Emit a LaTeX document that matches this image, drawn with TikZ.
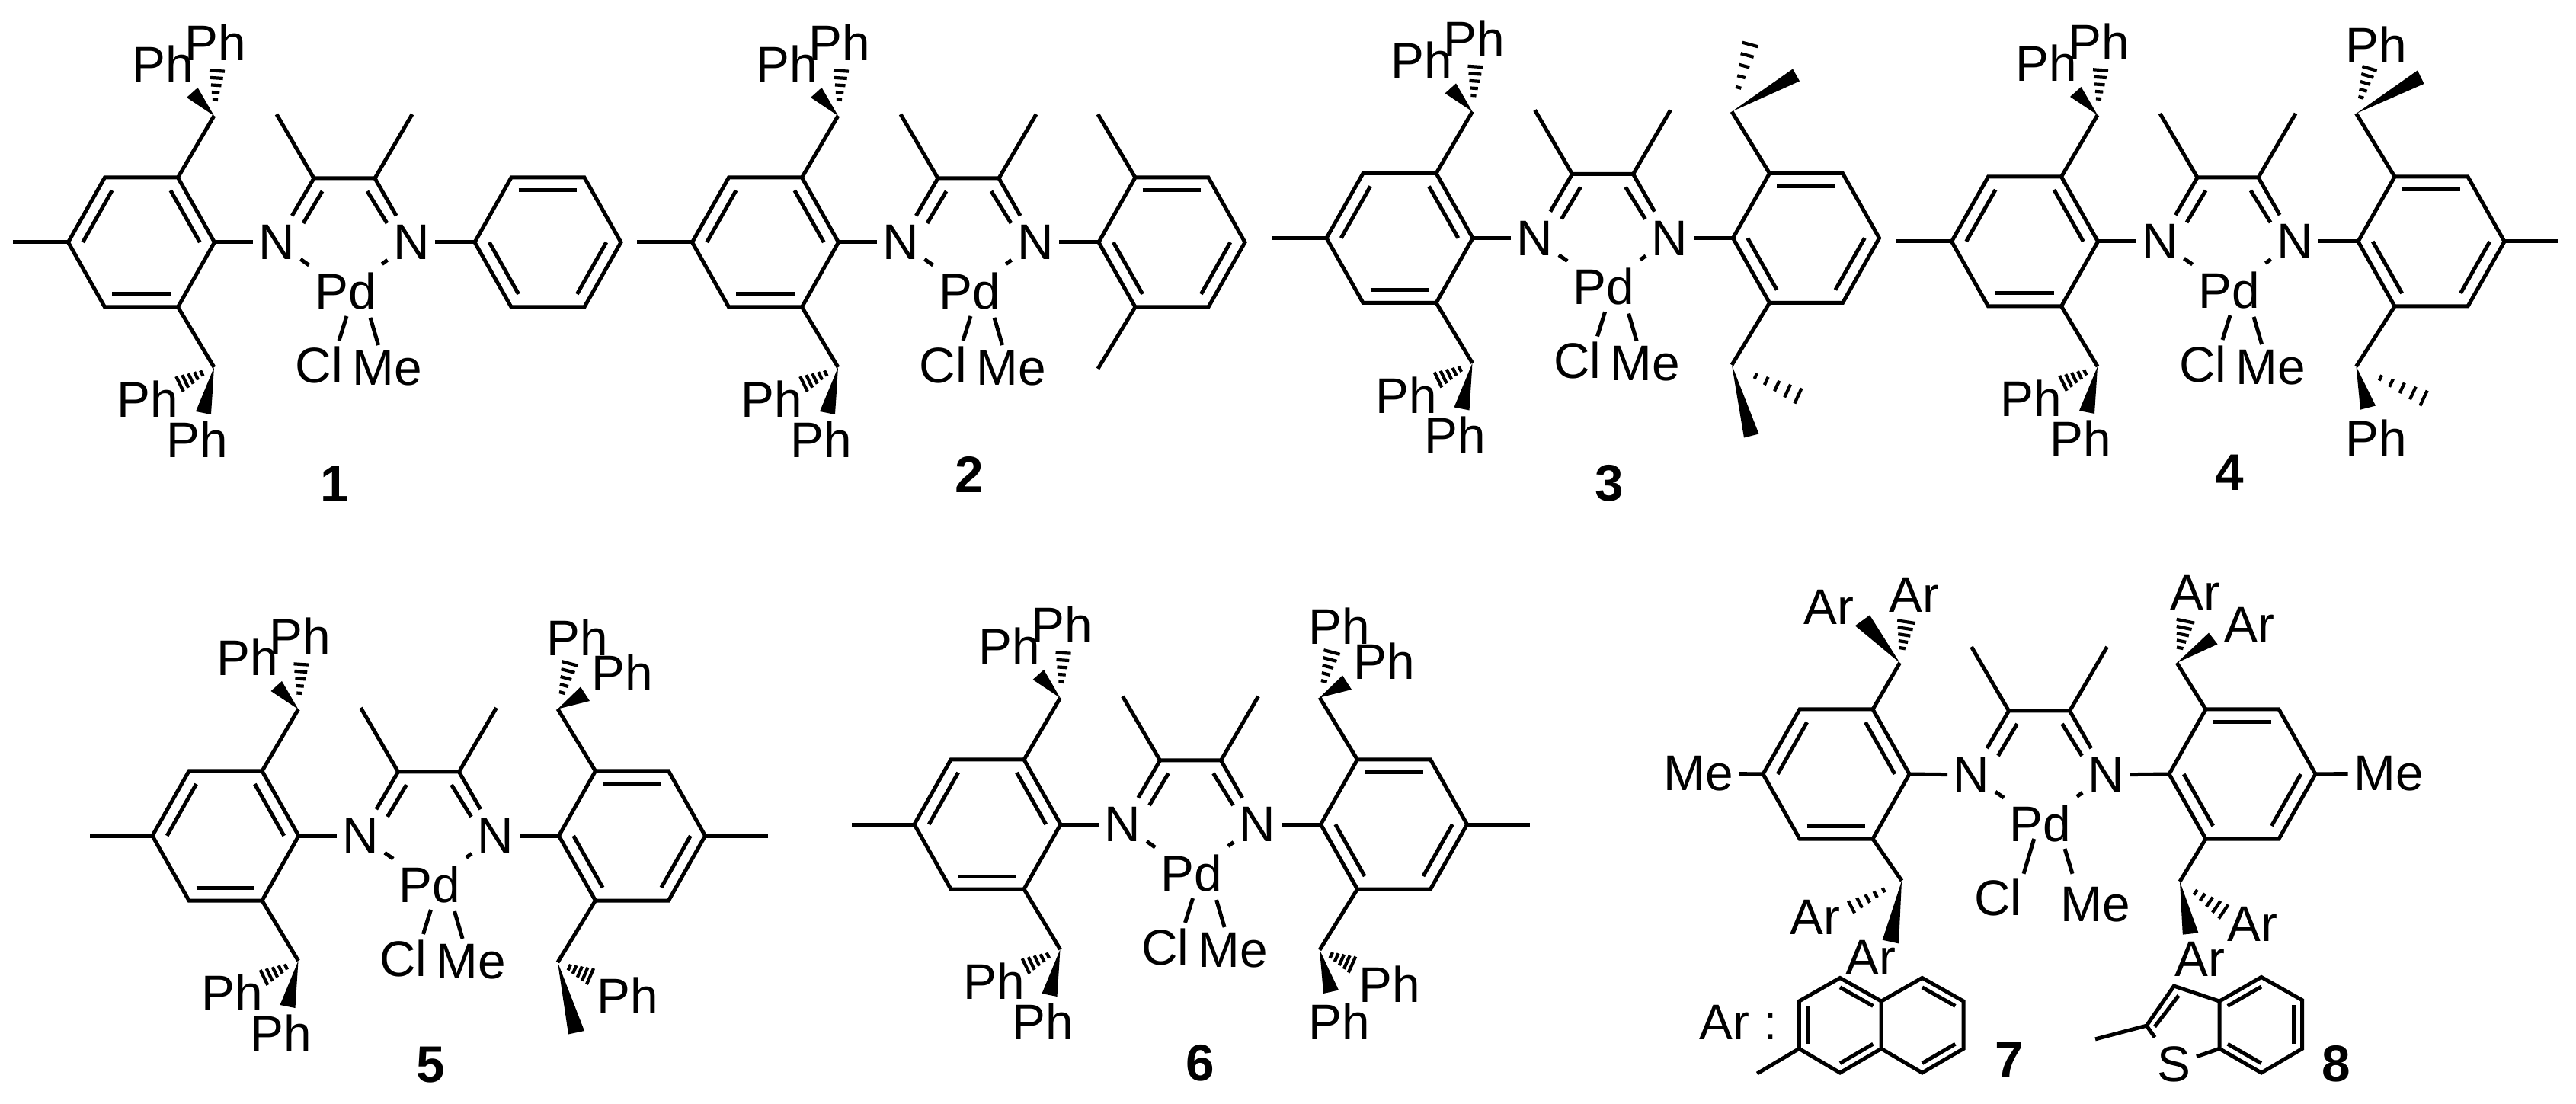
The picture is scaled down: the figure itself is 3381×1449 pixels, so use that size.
\documentclass[tikz,border=0pt]{standalone}
\usepackage{fontspec}
\setmainfont{Liberation Sans}
\usetikzlibrary{calc}

\tikzset{
  bondline/.style={line width=0.5mm},
  hashline/.style={line width=0.42mm},
  atomlabel/.style={inner xsep=0.7mm,inner ysep=1.15mm,font=\fontsize{18.7}{18.7}\selectfont},
  numlabel/.style={inner sep=0pt,font=\fontsize{19.2}{19.2}\selectfont\bfseries}
}

% six membered ring: name, centre x, centre y, flip
\newcommand{\arylring}[4]{%
  \begin{scope}[shift={(#2,#3)},yscale=#4]
    \coordinate (#1o) at (0,0);
    \coordinate (#1a) at (-96,0);
    \coordinate (#1b) at (-48,-85);
    \coordinate (#1c) at (48,-85);
    \coordinate (#1d) at (96,0);
    \coordinate (#1e) at (48,85);
    \coordinate (#1f) at (-48,85);
    \draw[bondline] (#1a) -- (#1b) -- (#1c) -- (#1d) -- (#1e) -- (#1f) -- cycle;
    \foreach \p/\q in {b/c,a/f,d/e}{
      \draw[bondline] ($(#1o)!.8!(#1\p)$) -- ($(#1o)!.8!(#1\q)$);
    }
  \end{scope}}

% hashed bond: from, wide end, half width in mm
\newcommand{\hashbond}[3]{%
  \foreach \f in {.36,.52,.68,.84,1}{
    \coordinate (hb) at ($(#1)!\f!(#2)$);
    \draw[hashline] ($(hb)!{\f*#3mm}!90:(#1)$) -- ($(hb)!{\f*#3mm}!-90:(#1)$);
  }}

% diimine backbone with both N and Pd
\newcommand{\coreunit}{%
  \coordinate (Ca) at (-40,0);
  \coordinate (Cb) at (40,0);
  \coordinate (Mea) at (-89,-84);
  \coordinate (Meb) at (89,-84);
  \coordinate (ina) at (-29,17);
  \coordinate (inb) at (-54,59);
  \coordinate (inc) at (30,17);
  \coordinate (ind) at (56,59);
  \node[atomlabel] (Na) at (-89,84) {N};
  \node[atomlabel] (Nb) at (88,84) {N};
  \node[atomlabel] (Pd) at (1.5,148) {Pd};
  \draw[bondline] (Mea) -- (Ca) -- (Cb) -- (Meb);
  \draw[bondline] (Ca) -- (Na);
  \draw[bondline] (Cb) -- (Nb);
  \draw[bondline] (ina) -- (inb);
  \draw[bondline] (inc) -- (ind);
  \draw[bondline] (Ld) -- (Na);
  \draw[bondline] (Ra) -- (Nb);
  \draw[bondline] (Na) -- (Pd);
  \draw[bondline] (Nb) -- (Pd);}

\newcommand{\ligandunit}{%
  \coordinate (cla) at (3,181);
  \coordinate (clb) at (-7,213);
  \coordinate (mea) at (34,183);
  \coordinate (meb) at (44.6,219);
  \node[atomlabel] (Cl) at (-33,245) {Cl};
  \node[atomlabel] (MeP) at (56,249) {Me};
  \draw[bondline] (cla) -- (clb);
  \draw[bondline] (mea) -- (meb);}

% left CHPh2 arms
\newcommand{\leftarm}{%
  \coordinate (topCH) at (-171,-82);
  \coordinate (botCH) at (-171,248);
  \draw[bondline] (Le) -- (topCH);
  \draw[bondline] (Lc) -- (botCH);
  \fill (topCH) -- (-207,-106) -- (-192.5,-119) -- cycle;
  \hashbond{topCH}{-167,-141}{1.0}
  \fill (botCH) -- (-195,306) -- (-175,310) -- cycle;
  \hashbond{botCH}{-216,270}{1.1}
  \node[atomlabel] (phA) at (-238,-150) {Ph};
  \node[atomlabel] (phB) at (-169,-178) {Ph};
  \node[atomlabel] (phC) at (-258,290) {Ph};
  \node[atomlabel] (phD) at (-193.5,342.5) {Ph};}

\begin{document}
\begin{tikzpicture}[x=0.1mm,y=-0.1mm]
  \path[use as bounding box,fill=white] (0,0) rectangle (3381,1449);

  % compound 1
  \begin{scope}[shift={(452,234)},name prefix=one-]
    \arylring{L}{-266.5}{84}{-1}
    \arylring{R}{267}{84}{1}
    \coreunit
    \ligandunit
    \leftarm
    \coordinate (Lm) at (-435,84);
    \draw[bondline] (La) -- (Lm);
  \end{scope}
  \node[numlabel] (numA) at (439,635) {1};

  % compound 2
  \begin{scope}[shift={(1271,234)},name prefix=two-]
    \arylring{L}{-266.5}{84}{-1}
    \arylring{R}{267}{84}{1}
    \coreunit
    \ligandunit
    \leftarm
    \coordinate (Lm) at (-435,84);
    \coordinate (Rma) at (170,-84);
    \coordinate (Rmb) at (170,250);
    \draw[bondline] (La) -- (Lm);
    \draw[bondline] (Rb) -- (Rma);
    \draw[bondline] (Rf) -- (Rmb);
  \end{scope}
  \node[numlabel] (numB) at (1272,623) {2};

  % compound 3
  \begin{scope}[shift={(2103.5,228.5)},name prefix=three-]
    \arylring{L}{-266.5}{84}{-1}
    \arylring{R}{267}{84}{1}
    \coreunit
    \ligandunit
    \leftarm
    \coordinate (Lm) at (-435,84);
    \coordinate (rtopCH) at (169.5,-82);
    \coordinate (rbotCH) at (169.5,250.5);
    \draw[bondline] (La) -- (Lm);
    \draw[bondline] (Rb) -- (rtopCH);
    \draw[bondline] (Rf) -- (rbotCH);
    \fill (rtopCH) -- (249.5,-138) -- (258.5,-122) -- cycle;
    \hashbond{rtopCH}{193.5,-170}{1.05}
    \fill (rbotCH) -- (185.5,346) -- (205,341) -- cycle;
    \hashbond{rbotCH}{256.5,291}{1.1}
  \end{scope}
  \node[numlabel] (numC) at (2112,634) {3};

  % compound 4
  \begin{scope}[shift={(2924,233)},name prefix=four-]
    \arylring{L}{-266.5}{84}{-1}
    \arylring{R}{267}{84}{1}
    \coreunit
    \ligandunit
    \leftarm
    \coordinate (Lm) at (-435,84);
    \coordinate (Rm) at (432.6,84);
    \coordinate (rtopCH) at (168.5,-84);
    \coordinate (rbotCH) at (168.5,248);
    \draw[bondline] (La) -- (Lm);
    \draw[bondline] (Rd) -- (Rm);
    \draw[bondline] (Rb) -- (rtopCH);
    \draw[bondline] (Rf) -- (rbotCH);
    \fill (rtopCH) -- (249,-140.6) -- (257.5,-123) -- cycle;
    \hashbond{rtopCH}{186,-143}{1.0}
    \fill (rbotCH) -- (174,304.7) -- (194,299.5) -- cycle;
    \hashbond{rbotCH}{257,289.6}{1.1}
    \node[atomlabel] (phE) at (195,-174.5) {Ph};
    \node[atomlabel] (phF) at (195,341.6) {Ph};
  \end{scope}
  \node[numlabel] (numD) at (2926.6,620) {4};

  % compound 5
  \begin{scope}[shift={(562.5,1013)},name prefix=five-]
    \arylring{L}{-266.5}{84}{-1}
    \arylring{R}{267}{84}{1}
    \coreunit
    \ligandunit
    \leftarm
    \coordinate (Lm) at (-445,84);
    \coordinate (Rm) at (445.5,84);
    \coordinate (rtopCH) at (169.5,-82.5);
    \coordinate (rbotCH) at (169.5,250);
    \draw[bondline] (La) -- (Lm);
    \draw[bondline] (Rd) -- (Rm);
    \draw[bondline] (Rb) -- (rtopCH);
    \draw[bondline] (Rf) -- (rbotCH);
    \fill (rtopCH) -- (199.5,-111.5) -- (211.5,-93) -- cycle;
    \hashbond{rtopCH}{185.5,-142}{1.1}
    \fill (rbotCH) -- (183.5,344.5) -- (204.5,340) -- cycle;
    \hashbond{rbotCH}{212,268.5}{1.15}
    \node[atomlabel] (phE) at (195.5,-176) {Ph};
    \node[atomlabel] (phF) at (254,-130) {Ph};
    \node[atomlabel] (phG) at (261.5,294) {Ph};
  \end{scope}
  \node[numlabel] (numE) at (565,1398) {5};

  % compound 6
  \begin{scope}[shift={(1562.5,998)},name prefix=six-]
    \arylring{L}{-266.5}{84}{-1}
    \arylring{R}{267}{84}{1}
    \coreunit
    \ligandunit
    \leftarm
    \coordinate (Lm) at (-445,84);
    \coordinate (Rm) at (445.5,84);
    \coordinate (rtopCH) at (169.5,-82.5);
    \coordinate (rbotCH) at (169.5,248.8);
    \draw[bondline] (La) -- (Lm);
    \draw[bondline] (Rd) -- (Rm);
    \draw[bondline] (Rb) -- (rtopCH);
    \draw[bondline] (Rf) -- (rbotCH);
    \fill (rtopCH) -- (199.5,-111.5) -- (211.5,-93) -- cycle;
    \hashbond{rtopCH}{185.5,-142}{1.1}
    \fill (rbotCH) -- (174.5,306) -- (194.5,301.5) -- cycle;
    \hashbond{rbotCH}{212,268}{1.15}
    \node[atomlabel] (phE) at (195.5,-176.5) {Ph};
    \node[atomlabel] (phF) at (254,-130) {Ph};
    \node[atomlabel] (phG) at (261.5,293.6) {Ph};
    \node[atomlabel] (phH) at (195.5,343) {Ph};
  \end{scope}
  \node[numlabel] (numF) at (1575.5,1395) {6};

  % compounds 7 and 8
  \begin{scope}[shift={(2676.5,933)},name prefix=seven-]
    \arylring{L}{-266.5}{83}{-1}
    \arylring{R}{266.5}{83}{1}
    \coreunit
    \node[atomlabel] (Cl) at (-54.5,245) {Cl};
    \node[atomlabel] (MeP) at (73.5,254) {Me};
    \node[atomlabel] (MeL) at (-447.5,82) {Me};
    \node[atomlabel] (MeR) at (458.5,82) {Me};
    \coordinate (cla) at (-6.8,168);
    \coordinate (clb) at (-20.5,213.8);
    \coordinate (mea) at (33.5,181);
    \coordinate (meb) at (43.5,213.8);
    \draw[bondline] (cla) -- (clb);
    \draw[bondline] (mea) -- (meb);
    \draw[bondline] (La) -- (MeL);
    \draw[bondline] (Rd) -- (MeR);
    \coordinate (topCH) at (-183,-63);
    \coordinate (botCH) at (-180.5,223);
    \coordinate (rtopCH) at (180.6,-63);
    \coordinate (rbotCH) at (184.5,224);
    \draw[bondline] (Le) -- (topCH);
    \draw[bondline] (Lc) -- (botCH);
    \draw[bondline] (Rb) -- (rtopCH);
    \draw[bondline] (Rf) -- (rbotCH);
    \fill (topCH) -- (-241.7,-111.7) -- (-222.5,-125.6) -- cycle;
    \hashbond{topCH}{-174.5,-116.8}{1.2}
    \fill (botCH) -- (-205.8,300.7) -- (-184.5,305.4) -- cycle;
    \hashbond{botCH}{-246.5,257.5}{0.9}
    \fill (rtopCH) -- (222.5,-102.4) -- (234,-87.5) -- cycle;
    \hashbond{rtopCH}{192,-117.7}{1.2}
    \fill (rbotCH) -- (188.3,293.7) -- (208.9,291.4) -- cycle;
    \hashbond{rbotCH}{241.8,263.5}{1.1}
    \node[atomlabel] (arA) at (-276.5,-136.3) {Ar};
    \node[atomlabel] (arB) at (-163.7,-152.6) {Ar};
    \node[atomlabel] (arC) at (-293.7,270.5) {Ar};
    \node[atomlabel] (arD) at (-221,324) {Ar};
    \node[atomlabel] (arE) at (205,-155) {Ar};
    \node[atomlabel] (arF) at (276.3,-113) {Ar};
    \node[atomlabel] (arG) at (280,279.8) {Ar};
    \node[atomlabel] (arH) at (211.2,326.3) {Ar};
  \end{scope}

  % Ar = naphthyl
  \node[atomlabel] (arKey) at (2281.8,1342) {Ar :};
  \coordinate (na) at (2415,1283.5);
  \coordinate (nb) at (2361.3,1314.1);
  \coordinate (nc) at (2361.3,1376.4);
  \coordinate (nd) at (2415,1408);
  \coordinate (ne) at (2469.2,1376.4);
  \coordinate (nf) at (2469.2,1314.1);
  \coordinate (ng) at (2522.8,1283.5);
  \coordinate (nh) at (2577.1,1314.1);
  \coordinate (ni) at (2577.1,1376.4);
  \coordinate (nj) at (2522.8,1408);
  \coordinate (nMe) at (2306.2,1409);
  \coordinate (nl) at (2415,1345.5);
  \coordinate (nr) at (2523,1345.5);
  \draw[bondline] (na) -- (nb) -- (nc) -- (nd) -- (ne) -- (nf) -- cycle;
  \draw[bondline] (nf) -- (ng) -- (nh) -- (ni) -- (nj) -- (ne);
  \draw[bondline] (nc) -- (nMe);
  \foreach \p/\q/\o in {na/nf/nl,nb/nc/nl,nd/ne/nl,ng/nh/nr,ni/nj/nr}{
    \draw[bondline] ($(\o)!.8!(\p)$) -- ($(\o)!.8!(\q)$);
  }

  % benzothiophene
  \node[atomlabel] (thS) at (2853.3,1397) {S};
  \coordinate (tc) at (2853.3,1294.1);
  \coordinate (tb) at (2817.3,1346.2);
  \coordinate (tg) at (2913,1376.4);
  \coordinate (td) at (2913,1314.1);
  \coordinate (te) at (2968,1282.5);
  \coordinate (tf) at (3021.6,1312.7);
  \coordinate (th) at (3021.6,1376.4);
  \coordinate (ti) at (2968,1408);
  \coordinate (tMe) at (2750,1363.9);
  \coordinate (to) at (2967,1345.5);
  \coordinate (tp) at (2859.4,1306.7);
  \coordinate (tq) at (2828,1347.6);
  \draw[bondline] (td) -- (te) -- (tf) -- (th) -- (ti) -- (tg) -- cycle;
  \draw[bondline] (td) -- (tc) -- (tb) -- (tMe);
  \draw[bondline] (tb) -- (thS);
  \draw[bondline] (tg) -- (thS);
  \draw[bondline] (tp) -- (tq);
  \foreach \p/\q in {td/te,tf/th,ti/tg}{
    \draw[bondline] ($(to)!.8!(\p)$) -- ($(to)!.8!(\q)$);
  }

  \node[numlabel] (numG) at (2637.5,1391) {7};
  \node[numlabel] (numH) at (3066,1396) {8};
\end{tikzpicture}
\end{document}
